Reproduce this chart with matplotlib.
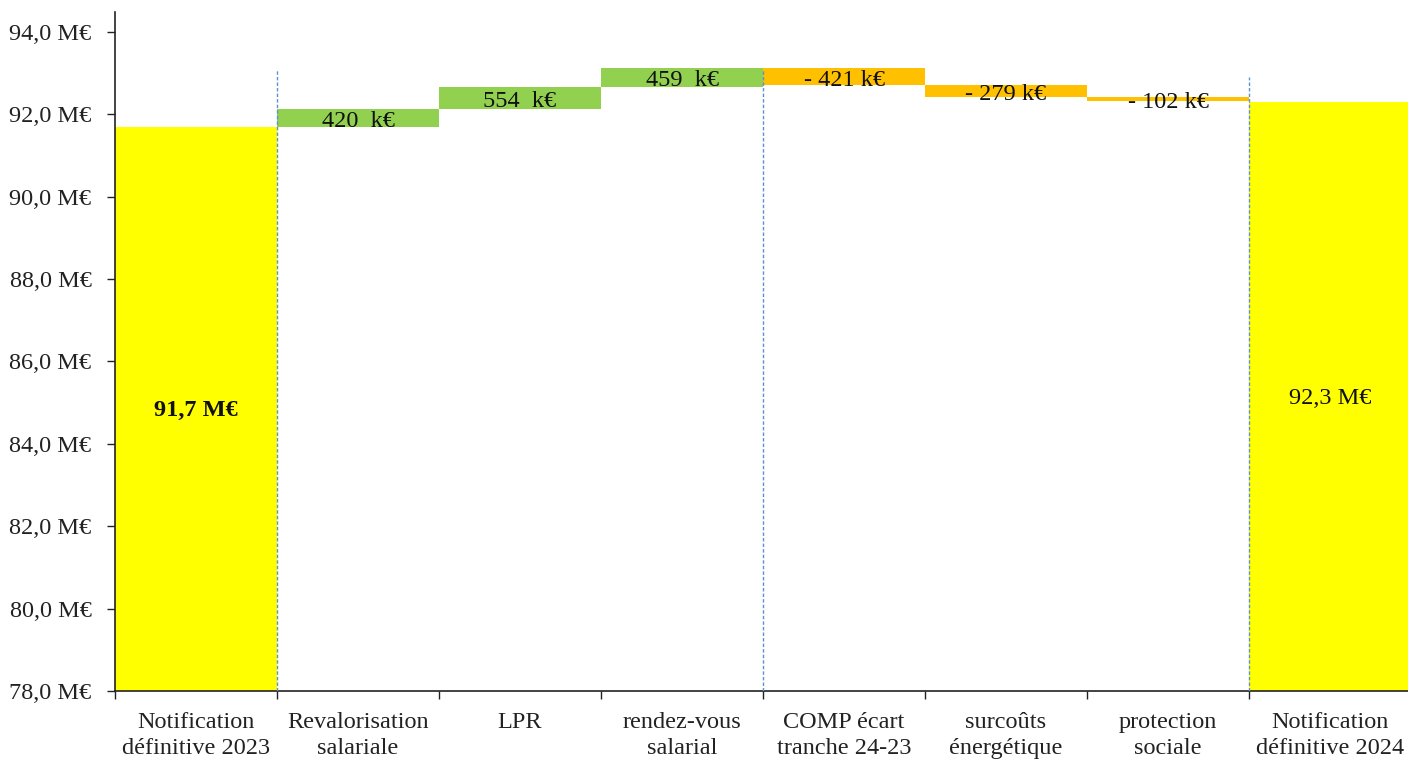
import matplotlib
matplotlib.use("Agg")
import matplotlib.pyplot as plt
import numpy as np

# Budget bridge 2023 -> 2024 (values in M€)
categories = [
    "Notification\ndéfinitive 2023",
    "Revalorisation\nsalariale",
    "LPR",
    "rendez-vous\nsalarial",
    "COMP écart\ntranche 24-23",
    "surcoûts\nénergétique",
    "protection\nsociale",
    "Notification\ndéfinitive 2024",
]
start_total = 91.7
deltas_k = [420, 554, 459, -421, -279, -102]
end_total = 92.3
separator_after = [0, 3, 6]
separator_tops = [93.1, 93.1, 92.9]
y_ticks = [78, 80, 82, 84, 86, 88, 90, 92, 94]

YELLOW = "#FFFF00"
GREEN = "#92D050"
ORANGE = "#FFC000"
SEP = "#5B93D0"
FONT = "Liberation Serif"
FS = 17.5

plt.rcParams["font.family"] = [FONT, "DejaVu Serif"]

fig = plt.figure(figsize=(14.08, 7.62), dpi=100)
W, H = 1408, 762
ax = fig.add_axes([115 / W, 71 / H, 1296 / W, (691 - 12) / H])

y0 = 78.0
n = len(categories)
x = np.arange(n)

# total bars
ax.bar(0, start_total - y0, bottom=y0, width=1.0, color=YELLOW, zorder=2)
ax.bar(n - 1, end_total - y0, bottom=y0, width=1.0, color=YELLOW, zorder=2)

# floating delta bars, labelled with the change in k€
level = start_total
for i, dk in enumerate(deltas_k, start=1):
    d = dk / 1000.0
    lo, hi = (level, level + d) if d >= 0 else (level + d, level)
    ax.bar(i, hi - lo, bottom=lo, width=1.0,
           color=GREEN if d >= 0 else ORANGE, zorder=2)
    label = f"{dk}  k€" if dk >= 0 else f"- {abs(dk)} k€"
    ax.text(i, (lo + hi) / 2 - 0.09, label, ha="center", va="center",
            fontsize=FS, color="#111111", zorder=4)
    level += d

# total labels
ax.text(0, 84.82, f"{start_total:.1f} M€".replace(".", ","), ha="center",
        va="center", fontsize=FS, fontweight="bold", color="#111111", zorder=4)
ax.text(n - 1, 85.11, f"{end_total:.1f} M€".replace(".", ","), ha="center",
        va="center", fontsize=FS, color="#111111", zorder=4)

# group separators
for idx, top in zip(separator_after, separator_tops):
    ax.plot([idx + 0.5, idx + 0.5], [y0, top], color=SEP, lw=1.0,
            ls=(0, (2.5, 1.5)), zorder=3)

ax.set_xlim(-0.5, n - 0.5)
ax.set_ylim(y0, 94.485)

ax.set_yticks(y_ticks)
ax.set_yticklabels([f"{v:.1f} M€".replace(".", ",") for v in y_ticks])
ax.set_xticks(np.arange(-0.5, n, 1.0))
ax.set_xticklabels([])
ax.set_xticks(x, minor=True)
ax.set_xticklabels(categories, minor=True, linespacing=1.3)
ax.tick_params(axis="x", which="minor", length=0, pad=15,
               labelsize=FS, labelcolor="#222222")
ax.tick_params(axis="x", which="major", length=6, width=1, color="#222222")
ax.tick_params(axis="y", length=6, width=1, color="#222222",
               labelsize=FS, labelcolor="#222222", pad=11)

for s in ["top", "right"]:
    ax.spines[s].set_visible(False)
for s in ["left", "bottom"]:
    ax.spines[s].set_color("#222222")
    ax.spines[s].set_linewidth(1.2)

fig.savefig("out.png", dpi=100)
